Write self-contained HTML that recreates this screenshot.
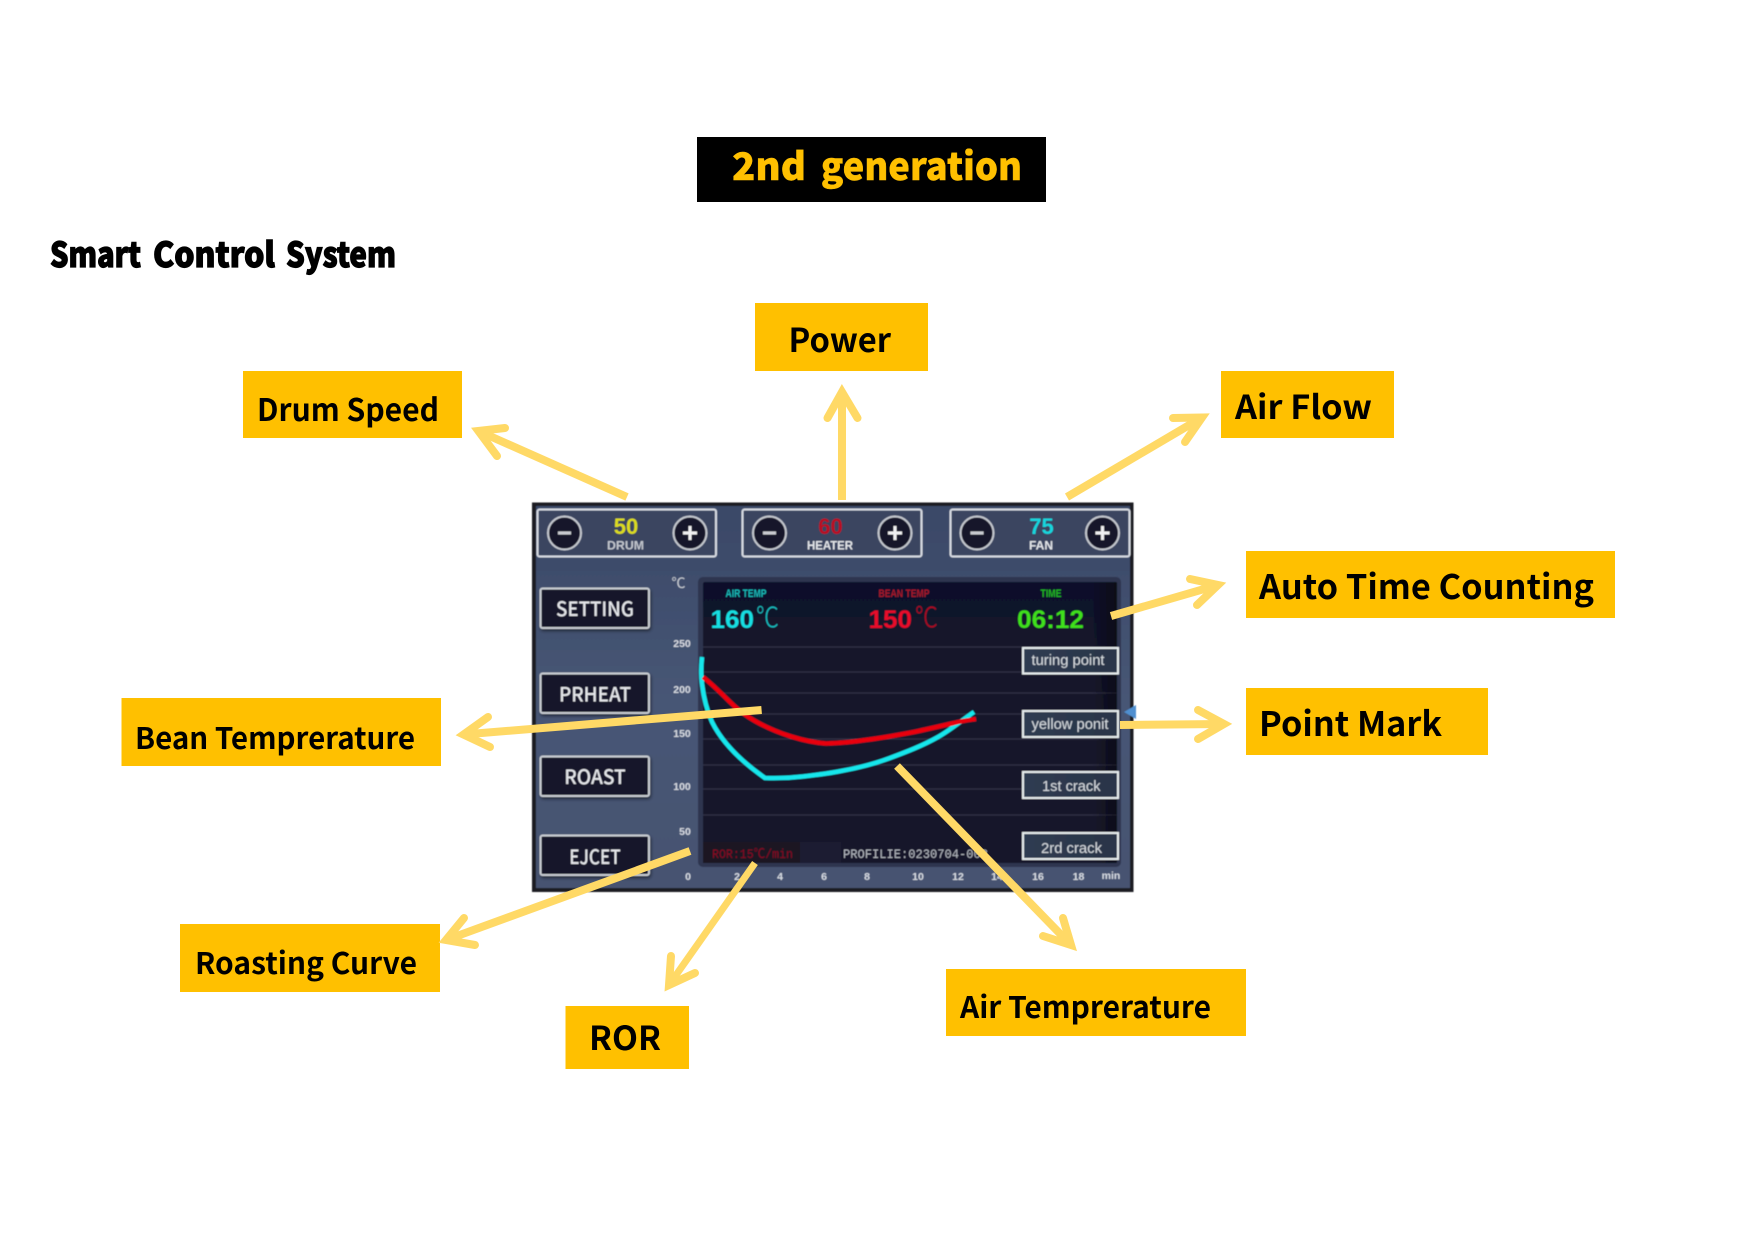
<!DOCTYPE html>
<html><head><meta charset="utf-8"><title>Smart Control System</title>
<style>
html,body{margin:0;padding:0;background:#fff;width:1754px;height:1241px;overflow:hidden}
svg{display:block}
.lb{font-family:"Noto Sans CJK SC","Liberation Sans",sans-serif;font-weight:700;fill:#000}
.hv{font-family:"Noto Sans CJK SC","Liberation Sans",sans-serif;font-weight:900}
.ui{font-family:"Liberation Sans",sans-serif;font-weight:700}
.btn{font-family:"Noto Sans CJK SC","Liberation Sans",sans-serif;font-weight:500;font-size:20px;fill:#e4e6ea;text-anchor:middle}
.ax{font-family:"Liberation Sans",sans-serif;font-weight:700;font-size:10.5px;fill:#d6dae2;text-anchor:middle}
.mk{font-family:"Liberation Sans",sans-serif;font-size:15px;fill:#d4d9de}
.deg{font-family:"Noto Sans CJK SC",sans-serif;font-weight:300;font-size:28px}
.arrow{fill:none;stroke:#ffd966;stroke-width:8;stroke-linecap:round;stroke-linejoin:miter;stroke-miterlimit:10}
.shaft{fill:none;stroke:#ffd966;stroke-width:8;stroke-linecap:butt}
</style></head><body>
<svg xmlns="http://www.w3.org/2000/svg" width="1754" height="1241" viewBox="0 0 1754 1241">
<defs>
<linearGradient id="pg" x1="0" y1="0" x2="0" y2="1"><stop offset="0" stop-color="#3a4867"/><stop offset="0.5" stop-color="#475675"/><stop offset="1" stop-color="#465371"/></linearGradient>
<linearGradient id="cg" x1="0" y1="0" x2="0" y2="1"><stop offset="0" stop-color="#10112a"/><stop offset="0.5" stop-color="#17172c"/><stop offset="1" stop-color="#17172c"/></linearGradient>
<linearGradient id="mg" x1="0" y1="0" x2="1" y2="0"><stop offset="0" stop-color="#2f3c52"/><stop offset="1" stop-color="#2a3548"/></linearGradient>
<linearGradient id="rg" x1="0" y1="0" x2="1" y2="0"><stop offset="0" stop-color="#000" stop-opacity="0"/><stop offset="1" stop-color="#000" stop-opacity=".45"/></linearGradient>
<filter id="bl" x="-2%" y="-2%" width="104%" height="104%"><feGaussianBlur stdDeviation="0.5"/></filter>
<filter id="sh" x="-10%" y="-10%" width="120%" height="130%"><feDropShadow dx="1" dy="2" stdDeviation="1.5" flood-color="#000" flood-opacity="0.5"/></filter>
</defs>

<rect x="0" y="0" width="1754" height="1241" fill="#fff"/>

<!-- title -->
<rect x="697" y="137" width="349" height="65" fill="#000"/>
<g class="hv" style="fill:#ffc000;stroke:#ffc000;stroke-width:.4" font-size="38">
<text x="732" y="180" textLength="74" lengthAdjust="spacingAndGlyphs">2nd</text>
<text x="821" y="180" textLength="201" lengthAdjust="spacingAndGlyphs">generation</text>
</g>
<g class="hv" style="fill:#000;stroke:#000;stroke-width:1.2" font-size="34">
<text x="50" y="267" textLength="91" lengthAdjust="spacingAndGlyphs">Smart</text>
<text x="153" y="267" textLength="122" lengthAdjust="spacingAndGlyphs">Control</text>
<text x="286" y="267" textLength="110" lengthAdjust="spacingAndGlyphs">System</text>
</g>

<!-- boxes -->
<g fill="#ffc000">
<rect x="755" y="303" width="173" height="68"/>
<rect x="243" y="371" width="219" height="67"/>
<rect x="1221" y="371" width="173" height="67"/>
<rect x="1246" y="551" width="369" height="67"/>
<rect x="1246" y="688" width="242" height="67"/>
<rect x="121.500" y="698" width="319.500" height="68"/>
<rect x="180" y="924" width="260" height="68"/>
<rect x="565.500" y="1006" width="123.500" height="63"/>
<rect x="946" y="969" width="300" height="67"/>
</g>
<text class="lb" x="788.500" y="352" font-size="33" textLength="102.500" lengthAdjust="spacingAndGlyphs">Power</text>
<text class="lb" x="257" y="421" font-size="31" textLength="182" lengthAdjust="spacingAndGlyphs">Drum Speed</text>
<text class="lb" x="1235" y="419" font-size="33" textLength="137" lengthAdjust="spacingAndGlyphs">Air Flow</text>
<text class="lb" x="1259" y="599" font-size="34" textLength="335" lengthAdjust="spacingAndGlyphs">Auto Time Counting</text>
<text class="lb" x="1259" y="736" font-size="34" textLength="183" lengthAdjust="spacingAndGlyphs">Point Mark</text>
<text class="lb" x="135" y="749" font-size="30" textLength="280" lengthAdjust="spacingAndGlyphs">Bean Temprerature</text>
<text class="lb" x="195" y="974" font-size="30" textLength="222" lengthAdjust="spacingAndGlyphs">Roasting Curve</text>
<text class="lb" x="589" y="1050" font-size="33" textLength="72" lengthAdjust="spacingAndGlyphs">ROR</text>
<text class="lb" x="960" y="1018" font-size="30" textLength="251" lengthAdjust="spacingAndGlyphs">Air Temprerature</text>

<!-- control panel -->
<g filter="url(#bl)">
<rect x="532" y="502.500" width="601.500" height="389.500" fill="#1d1a20"/>
<rect x="536" y="506" width="594" height="382" fill="url(#pg)"/>

<!-- top groups -->
<g fill="#3a4460" stroke="#d6dae2" stroke-width="2">
<rect x="537.500" y="509.500" width="178.500" height="47" rx="2"/>
<rect x="742.500" y="509.500" width="179" height="47" rx="2"/>
<rect x="950.500" y="509.500" width="179" height="47" rx="2"/>
</g>
<g fill="#16162a" stroke="#c4c8cf" stroke-width="2">
<circle cx="564.500" cy="533" r="16.500"/><circle cx="690" cy="533" r="16.500"/>
<circle cx="769.500" cy="533" r="16.500"/><circle cx="895" cy="533" r="16.500"/>
<circle cx="977" cy="533" r="16.500"/><circle cx="1102.500" cy="533" r="16.500"/>
</g>
<g stroke="#c9ccd2" stroke-width="3" fill="none">
<path d="M558 533h13M763 533h13M970.500 533h13"/>
</g>
<g stroke="#f0f0f2" stroke-width="3" fill="none">
<path d="M683 533h14M690 526v14M888 533h14M895 526v14M1095.500 533h14M1102.500 526v14"/>
</g>
<text class="ui" x="626" y="534" font-size="22" text-anchor="middle" fill="#dcdc1e">50</text>
<text class="ui" x="830.500" y="534" font-size="22" text-anchor="middle" fill="#bb1020">60</text>
<text class="ui" x="1041.500" y="534" font-size="22" text-anchor="middle" fill="#17d6de">75</text>
<text class="ui" x="625.500" y="549.500" font-size="12" text-anchor="middle" fill="#c2c6ce" font-weight="400" textLength="37" lengthAdjust="spacingAndGlyphs">DRUM</text>
<text class="ui" x="830" y="549.500" font-size="12" text-anchor="middle" fill="#e4e6ea" textLength="46" lengthAdjust="spacingAndGlyphs">HEATER</text>
<text class="ui" x="1041" y="549.500" font-size="12" text-anchor="middle" fill="#e4e6ea" textLength="24" lengthAdjust="spacingAndGlyphs">FAN</text>

<!-- left buttons -->
<g fill="#16162a" stroke="#c8ccd2" stroke-width="2" filter="url(#sh)">
<rect x="540.500" y="588.500" width="108.500" height="39.500" rx="2"/>
<rect x="540.500" y="673.500" width="108.500" height="39.500" rx="2"/>
<rect x="540.500" y="756.500" width="108.500" height="39.500" rx="2"/>
<rect x="540.500" y="835.500" width="108.500" height="39.500" rx="2"/>
</g>
<text class="btn" x="595" y="616" textLength="78" lengthAdjust="spacingAndGlyphs">SETTING</text>
<text class="btn" x="595" y="701.500" textLength="72" lengthAdjust="spacingAndGlyphs">PRHEAT</text>
<text class="btn" x="595" y="784" textLength="61.500" lengthAdjust="spacingAndGlyphs">ROAST</text>
<text class="btn" x="595" y="864" textLength="51.500" lengthAdjust="spacingAndGlyphs">EJCET</text>

<!-- axis -->
<text x="671.500" y="588" font-family="'Noto Sans CJK SC',sans-serif" font-size="14" fill="#c8ccd4">℃</text>
<text class="ax" x="682" y="647">250</text>
<text class="ax" x="682" y="693">200</text>
<text class="ax" x="682" y="737">150</text>
<text class="ax" x="682" y="790">100</text>
<text class="ax" x="685" y="835">50</text>
<text class="ax" x="688" y="880">0</text>
<text class="ax" x="737" y="880">2</text>
<text class="ax" x="780" y="880">4</text>
<text class="ax" x="824" y="880">6</text>
<text class="ax" x="867" y="880">8</text>
<text class="ax" x="918" y="880">10</text>
<text class="ax" x="958" y="880">12</text>
<text class="ax" x="997" y="880">14</text>
<text class="ax" x="1038" y="880">16</text>
<text class="ax" x="1078.500" y="880">18</text>
<text class="ax" x="1111" y="879">min</text>

<!-- chart -->
<rect x="698" y="577" width="423" height="290" rx="5" fill="#2e3550"/>
<rect x="703" y="582" width="414" height="281" rx="2" fill="url(#cg)"/>
<g stroke="#303046" stroke-width="1.200">
<path d="M703 647H1117M703 672H1117M703 693H1117M703 714H1117M703 739H1117M703 765H1117M703 789H1117M703 815H1117"/>
</g>
<rect x="1092" y="582" width="25" height="281" fill="url(#rg)"/>
<rect x="703" y="842" width="97" height="21" fill="#1a1224"/>
<rect x="800" y="842" width="41" height="21" fill="#1e1e32"/>
<rect x="841" y="842" width="155" height="21" fill="#18182c"/>
<text class="ui" x="746" y="597" font-size="11" text-anchor="middle" fill="#14b8b8" font-weight="400" textLength="41" lengthAdjust="spacingAndGlyphs">AIR TEMP</text>
<text class="ui" x="904" y="597" font-size="11" text-anchor="middle" fill="#a8142a" font-weight="400" textLength="51" lengthAdjust="spacingAndGlyphs">BEAN TEMP</text>
<text class="ui" x="1051" y="597" font-size="11" text-anchor="middle" fill="#22b522" font-weight="400" textLength="21" lengthAdjust="spacingAndGlyphs">TIME</text>
<text class="ui" x="710.500" y="628" font-size="25" fill="#19dfe3" textLength="43.500" lengthAdjust="spacingAndGlyphs">160</text>
<text class="deg" x="756" y="627" fill="#17b9bd" textLength="23" lengthAdjust="spacingAndGlyphs">℃</text>
<text class="ui" x="868.500" y="628" font-size="25" fill="#e8102c" textLength="43.500" lengthAdjust="spacingAndGlyphs">150</text>
<text class="deg" x="915" y="627" fill="#b01024" textLength="23" lengthAdjust="spacingAndGlyphs">℃</text>
<text class="ui" x="1017" y="628" font-size="25" fill="#3fe01f" textLength="67" lengthAdjust="spacingAndGlyphs">06:12</text>

<text x="712" y="858" font-family="'Liberation Mono','Noto Sans CJK SC',monospace" font-size="13" fill="#8a1022" textLength="81" lengthAdjust="spacingAndGlyphs">ROR:15℃/min</text>
<text x="843" y="858" font-family="'Liberation Mono',monospace" font-size="13" fill="#b4b8c0" textLength="145" lengthAdjust="spacingAndGlyphs">PROFILIE:0230704-008</text>

<!-- curves -->
<path d="M702 657C701 667 701 677 702 684C704 700 708 713 712 722C724 746 745 764 765 778C778 778.500 790 778 803 776.500C816 775 829 773.500 841 771C858 768 874 764 890 758C906 752 922 746 938 737C952 729 962 720 974 712" fill="none" stroke="#13e6ec" stroke-width="4.500"/>
<path d="M703 677C712 684 720 692 729 701C738 710 746 716 755 721C778 734 805 742 826 743.500C840 743 853 742 865.500 740C882 738 898 735 914 732C928 729 941 726 954 723C961 721 969 720 976 719" fill="none" stroke="#e8000e" stroke-width="4.500"/>

<!-- mark buttons -->
<g fill="url(#mg)" stroke="#e6ecee" stroke-width="2">
<rect x="1023" y="648" width="95" height="25.500"/>
<rect x="1023" y="711" width="95" height="26"/>
<rect x="1023" y="772" width="95" height="26"/>
<rect x="1023" y="833" width="95" height="26"/>
</g>
<text class="mk" x="1031.500" y="665" textLength="73" lengthAdjust="spacingAndGlyphs">turing point</text>
<text class="mk" x="1031.500" y="729" textLength="77" lengthAdjust="spacingAndGlyphs">yellow ponit</text>
<text class="mk" x="1042" y="791" textLength="58.500" lengthAdjust="spacingAndGlyphs">1st crack</text>
<text class="mk" x="1041" y="853" textLength="61" lengthAdjust="spacingAndGlyphs">2rd crack</text>
<polygon points="1124,712 1136,705 1136,719" fill="#4f8fd0"/>
</g>

<!-- arrows -->
<path class="shaft" d="M842 500V392"/>
<polyline class="arrow" points="827.500,418 842,392 857.500,418"/>

<path class="shaft" d="M627 497L478.400 431"/>
<polyline class="arrow" points="505,428 478.400,431 497,456"/>

<path class="shaft" d="M1067 497L1202 417.500"/>
<polyline class="arrow" points="1173,418 1202,417.500 1185,442"/>

<path class="shaft" d="M1111 616L1218 585"/>
<polyline class="arrow" points="1190,579 1218,585 1197,605"/>

<path class="shaft" d="M1120 725L1224 724"/>
<polyline class="arrow" points="1198,710 1224,724 1198,739"/>

<path class="shaft" d="M761.600 710L463.500 734.500"/>
<polyline class="arrow" points="488,717 463.500,734.500 490,747"/>

<path class="shaft" d="M690 851L446 940"/>
<polyline class="arrow" points="464,918 446,940 475,945"/>

<path class="shaft" d="M755 863L669 985" style="stroke-width:7"/>
<polyline class="arrow" points="671,956 669,985 695,973"/>

<path class="shaft" d="M897 766L1071 945"/>
<polyline class="arrow" points="1063,918 1071,945 1043,936"/>
</svg>
</body></html>
